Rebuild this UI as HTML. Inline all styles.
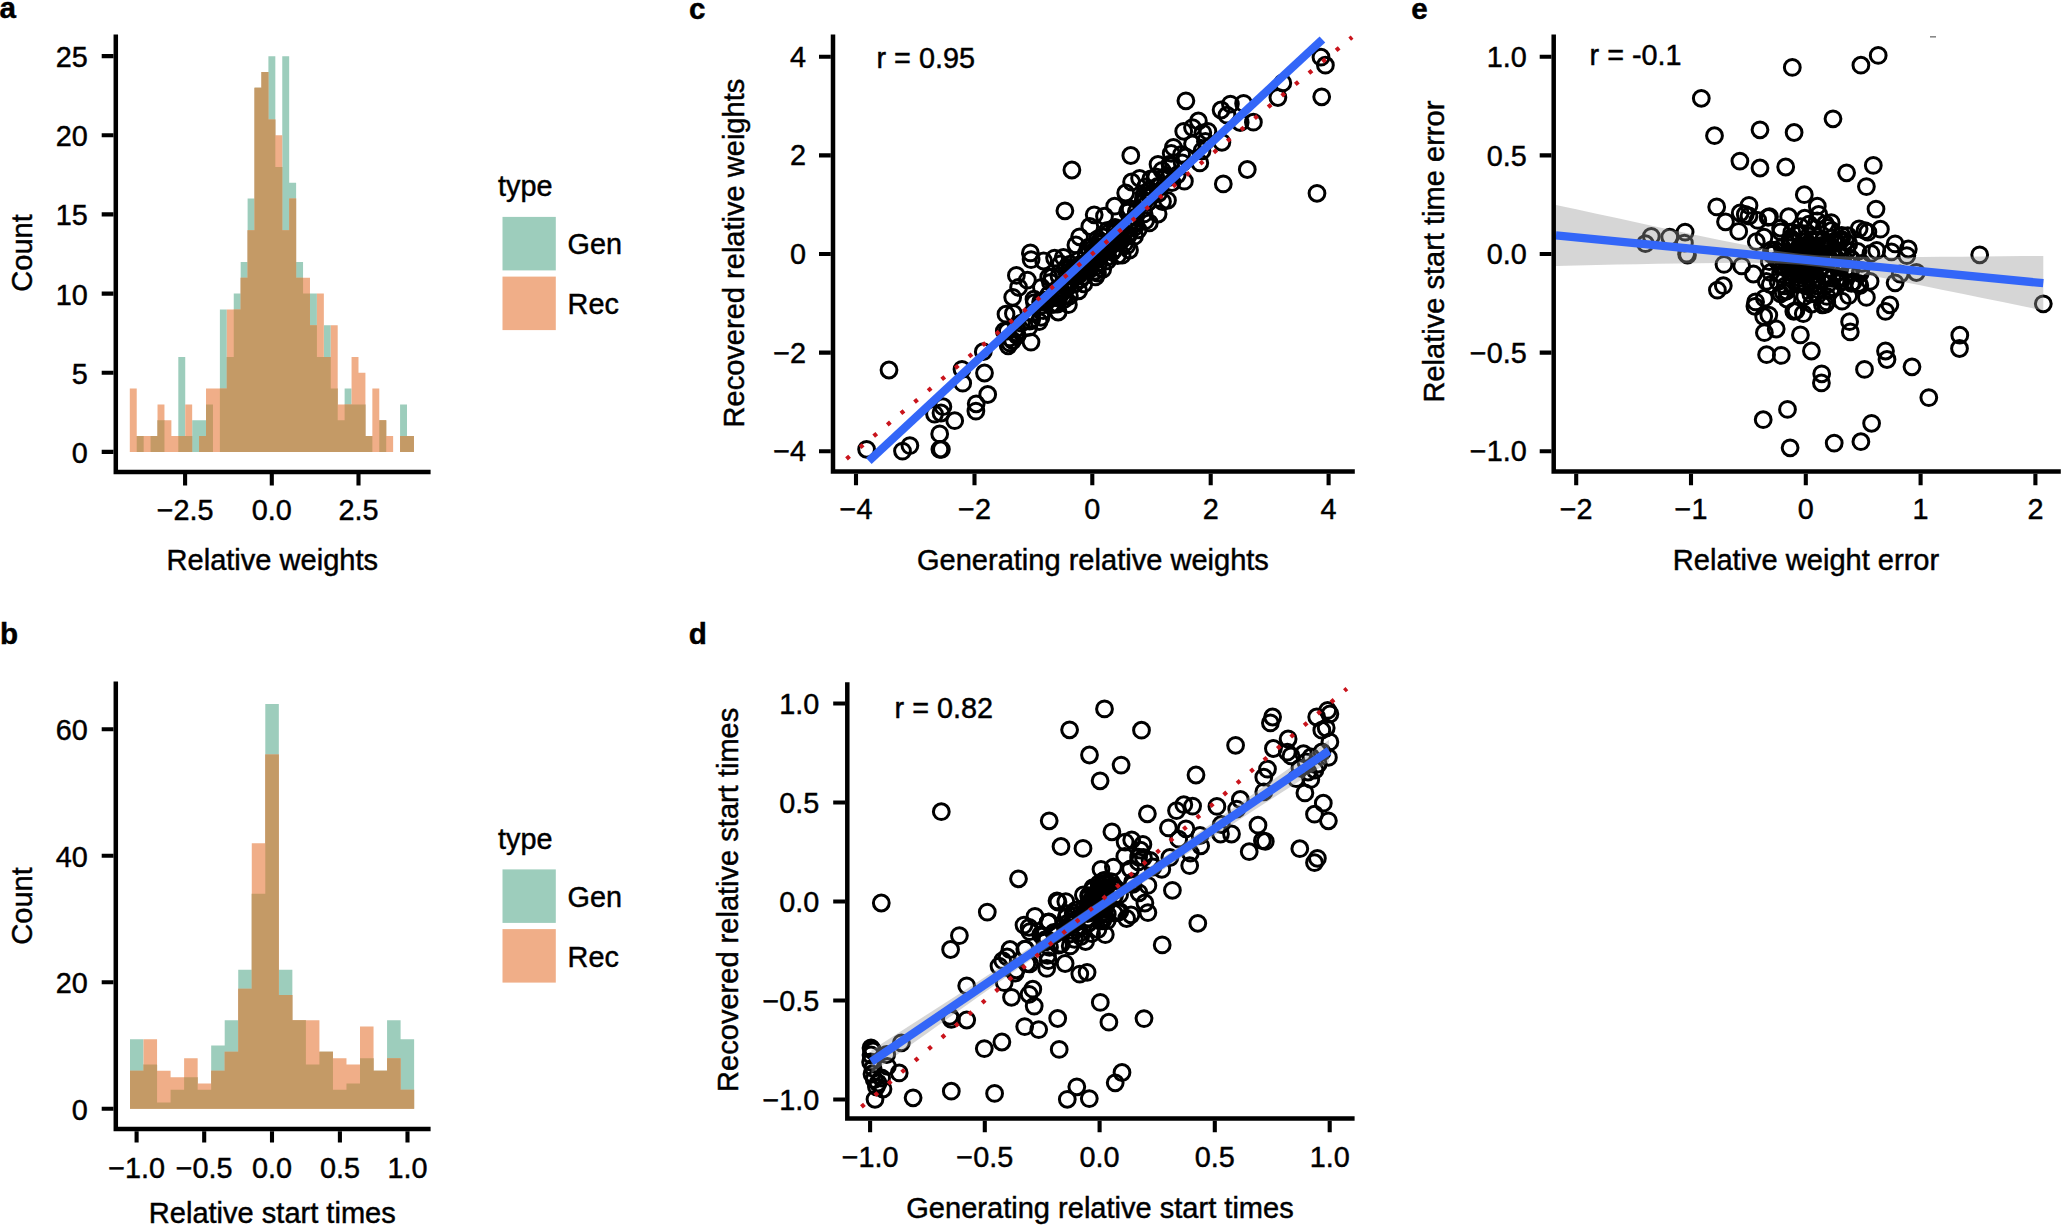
<!DOCTYPE html>
<html lang="en">
<head>
<meta charset="utf-8">
<title>Figure</title>
<style>html,body{margin:0;padding:0;background:#fff}svg{display:block}text{stroke:#000;stroke-width:.45px}</style>
</head>
<body>
<svg width="2062" height="1226" viewBox="0 0 2062 1226" font-family="'Liberation Sans', sans-serif" fill="#000">
<rect width="2062" height="1226" fill="#fff"/>
<text x="-0.5" y="17.6" text-anchor="start" font-size="29.6" font-weight="bold">a</text>
<text x="0" y="644" text-anchor="start" font-size="29.6" font-weight="bold">b</text>
<text x="689" y="19.1" text-anchor="start" font-size="29.6" font-weight="bold">c</text>
<text x="688.8" y="644" text-anchor="start" font-size="29.6" font-weight="bold">d</text>
<text x="1411.2" y="19.1" text-anchor="start" font-size="29.6" font-weight="bold">e</text>
<path d="M136.73 451.9v-15.83h6.93v15.83zM150.59 451.9v-15.83h6.93v15.83zM157.52 451.9v-31.66h6.93v31.66zM178.31 451.9v-94.98h6.93v94.98zM185.24 451.9v-15.83h6.93v15.83zM192.17 451.9v-31.66h6.93v31.66zM199.10 451.9v-31.66h6.93v31.66zM206.03 451.9v-47.49h6.93v47.49zM219.89 451.9v-142.47h6.93v142.47zM226.82 451.9v-94.98h6.93v94.98zM233.75 451.9v-158.30h6.93v158.30zM240.68 451.9v-189.96h6.93v189.96zM247.61 451.9v-253.28h6.93v253.28zM254.54 451.9v-364.09h6.93v364.09zM261.47 451.9v-379.92h6.93v379.92zM268.40 451.9v-395.75h6.93v395.75zM275.33 451.9v-284.94h6.93v284.94zM282.26 451.9v-395.75h6.93v395.75zM289.19 451.9v-269.11h6.93v269.11zM296.12 451.9v-189.96h6.93v189.96zM303.05 451.9v-158.30h6.93v158.30zM309.98 451.9v-158.30h6.93v158.30zM316.91 451.9v-94.98h6.93v94.98zM323.84 451.9v-126.64h6.93v126.64zM330.77 451.9v-63.32h6.93v63.32zM337.70 451.9v-31.66h6.93v31.66zM344.63 451.9v-63.32h6.93v63.32zM351.56 451.9v-47.49h6.93v47.49zM358.49 451.9v-47.49h6.93v47.49zM365.42 451.9v-15.83h6.93v15.83zM379.28 451.9v-31.66h6.93v31.66zM400.07 451.9v-47.49h6.93v47.49zM407.00 451.9v-15.83h6.93v15.83z" fill="#9dcdbc"/>
<path d="M129.80 451.9v-63.32h6.93v63.32zM136.73 451.9v-15.83h6.93v15.83zM143.66 451.9v-15.83h6.93v15.83zM150.59 451.9v-15.83h6.93v15.83zM157.52 451.9v-47.49h6.93v47.49zM164.45 451.9v-31.66h6.93v31.66zM171.38 451.9v-15.83h6.93v15.83zM178.31 451.9v-15.83h6.93v15.83zM185.24 451.9v-47.49h6.93v47.49zM199.10 451.9v-15.83h6.93v15.83zM206.03 451.9v-63.32h6.93v63.32zM212.96 451.9v-63.32h6.93v63.32zM219.89 451.9v-63.32h6.93v63.32zM226.82 451.9v-142.47h6.93v142.47zM233.75 451.9v-142.47h6.93v142.47zM240.68 451.9v-174.13h6.93v174.13zM247.61 451.9v-221.62h6.93v221.62zM254.54 451.9v-364.09h6.93v364.09zM261.47 451.9v-379.92h6.93v379.92zM268.40 451.9v-332.43h6.93v332.43zM275.33 451.9v-316.60h6.93v316.60zM282.26 451.9v-221.62h6.93v221.62zM289.19 451.9v-253.28h6.93v253.28zM296.12 451.9v-174.13h6.93v174.13zM303.05 451.9v-174.13h6.93v174.13zM309.98 451.9v-126.64h6.93v126.64zM316.91 451.9v-158.30h6.93v158.30zM323.84 451.9v-94.98h6.93v94.98zM330.77 451.9v-126.64h6.93v126.64zM337.70 451.9v-47.49h6.93v47.49zM344.63 451.9v-47.49h6.93v47.49zM351.56 451.9v-94.98h6.93v94.98zM358.49 451.9v-79.15h6.93v79.15zM365.42 451.9v-15.83h6.93v15.83zM372.35 451.9v-63.32h6.93v63.32zM379.28 451.9v-31.66h6.93v31.66zM386.21 451.9v-15.83h6.93v15.83zM400.07 451.9v-15.83h6.93v15.83zM407.00 451.9v-15.83h6.93v15.83z" fill="#f0ae88"/>
<path d="M136.73 451.9v-15.83h6.93v15.83zM150.59 451.9v-15.83h6.93v15.83zM157.52 451.9v-31.66h6.93v31.66zM178.31 451.9v-15.83h6.93v15.83zM185.24 451.9v-15.83h6.93v15.83zM199.10 451.9v-15.83h6.93v15.83zM206.03 451.9v-47.49h6.93v47.49zM219.89 451.9v-63.32h6.93v63.32zM226.82 451.9v-94.98h6.93v94.98zM233.75 451.9v-142.47h6.93v142.47zM240.68 451.9v-174.13h6.93v174.13zM247.61 451.9v-221.62h6.93v221.62zM254.54 451.9v-364.09h6.93v364.09zM261.47 451.9v-379.92h6.93v379.92zM268.40 451.9v-332.43h6.93v332.43zM275.33 451.9v-284.94h6.93v284.94zM282.26 451.9v-221.62h6.93v221.62zM289.19 451.9v-253.28h6.93v253.28zM296.12 451.9v-174.13h6.93v174.13zM303.05 451.9v-158.30h6.93v158.30zM309.98 451.9v-126.64h6.93v126.64zM316.91 451.9v-94.98h6.93v94.98zM323.84 451.9v-94.98h6.93v94.98zM330.77 451.9v-63.32h6.93v63.32zM337.70 451.9v-31.66h6.93v31.66zM344.63 451.9v-47.49h6.93v47.49zM351.56 451.9v-47.49h6.93v47.49zM358.49 451.9v-47.49h6.93v47.49zM365.42 451.9v-15.83h6.93v15.83zM379.28 451.9v-31.66h6.93v31.66zM400.07 451.9v-15.83h6.93v15.83zM407.00 451.9v-15.83h6.93v15.83z" fill="#c49a66"/>
<path d="M115.8 34.6V471.9H430.6" fill="none" stroke="#000" stroke-width="4.5" stroke-linecap="butt" stroke-linejoin="miter"/>
<path d="M185.1 474.1v11.4M271.8 474.1v11.4M358.5 474.1v11.4M113.5 451.9h-11.8M113.5 372.8h-11.8M113.5 293.6h-11.8M113.5 214.4h-11.8M113.5 135.3h-11.8M113.5 56.1h-11.8" stroke="#000" stroke-width="4.1" fill="none"/>
<text x="185.1" y="519.6" text-anchor="middle" font-size="28.8">−2.5</text>
<text x="271.8" y="519.6" text-anchor="middle" font-size="28.8">0.0</text>
<text x="358.5" y="519.6" text-anchor="middle" font-size="28.8">2.5</text>
<text x="87.8" y="462.9" text-anchor="end" font-size="28.8">0</text>
<text x="87.8" y="383.8" text-anchor="end" font-size="28.8">5</text>
<text x="87.8" y="304.6" text-anchor="end" font-size="28.8">10</text>
<text x="87.8" y="225.4" text-anchor="end" font-size="28.8">15</text>
<text x="87.8" y="146.3" text-anchor="end" font-size="28.8">20</text>
<text x="87.8" y="67.1" text-anchor="end" font-size="28.8">25</text>
<text x="272.3" y="570.3" text-anchor="middle" font-size="29.05">Relative weights</text>
<text x="32.3" y="253" text-anchor="middle" font-size="29.05" transform="rotate(-90 32.3 253)">Count</text>
<text x="498" y="196" text-anchor="start" font-size="28.8">type</text>
<rect x="502.5" y="216.9" width="53.3" height="53.5" fill="#9dcdbc"/>
<rect x="502.5" y="276.6" width="53.3" height="53.5" fill="#f0ae88"/>
<text x="567.6" y="254.4" text-anchor="start" font-size="28.8">Gen</text>
<text x="567.6" y="314.3" text-anchor="start" font-size="28.8">Rec</text>
<path d="M130.00 1108.8v-69.58h13.53v69.58zM143.53 1108.8v-44.27h13.53v44.27zM157.06 1108.8v-6.33h13.53v6.33zM170.59 1108.8v-18.98h13.53v18.98zM184.12 1108.8v-31.62h13.53v31.62zM197.65 1108.8v-18.98h13.53v18.98zM211.18 1108.8v-63.25h13.53v63.25zM224.71 1108.8v-88.55h13.53v88.55zM238.24 1108.8v-139.15h13.53v139.15zM251.77 1108.8v-215.05h13.53v215.05zM265.30 1108.8v-404.80h13.53v404.80zM278.83 1108.8v-139.15h13.53v139.15zM292.36 1108.8v-88.55h13.53v88.55zM305.89 1108.8v-44.27h13.53v44.27zM319.42 1108.8v-56.93h13.53v56.93zM332.95 1108.8v-18.98h13.53v18.98zM346.48 1108.8v-25.30h13.53v25.30zM360.01 1108.8v-50.60h13.53v50.60zM373.54 1108.8v-37.95h13.53v37.95zM387.07 1108.8v-88.55h13.53v88.55zM400.60 1108.8v-69.58h13.53v69.58z" fill="#9dcdbc"/>
<path d="M130.00 1108.8v-37.95h13.53v37.95zM143.53 1108.8v-69.58h13.53v69.58zM157.06 1108.8v-37.95h13.53v37.95zM170.59 1108.8v-31.62h13.53v31.62zM184.12 1108.8v-50.60h13.53v50.60zM197.65 1108.8v-25.30h13.53v25.30zM211.18 1108.8v-37.95h13.53v37.95zM224.71 1108.8v-56.93h13.53v56.93zM238.24 1108.8v-120.17h13.53v120.17zM251.77 1108.8v-265.65h13.53v265.65zM265.30 1108.8v-354.20h13.53v354.20zM278.83 1108.8v-113.85h13.53v113.85zM292.36 1108.8v-88.55h13.53v88.55zM305.89 1108.8v-88.55h13.53v88.55zM319.42 1108.8v-56.93h13.53v56.93zM332.95 1108.8v-50.60h13.53v50.60zM346.48 1108.8v-44.27h13.53v44.27zM360.01 1108.8v-82.23h13.53v82.23zM373.54 1108.8v-37.95h13.53v37.95zM387.07 1108.8v-50.60h13.53v50.60zM400.60 1108.8v-18.98h13.53v18.98z" fill="#f0ae88"/>
<path d="M130.00 1108.8v-37.95h13.53v37.95zM143.53 1108.8v-44.27h13.53v44.27zM157.06 1108.8v-6.33h13.53v6.33zM170.59 1108.8v-18.98h13.53v18.98zM184.12 1108.8v-31.62h13.53v31.62zM197.65 1108.8v-18.98h13.53v18.98zM211.18 1108.8v-37.95h13.53v37.95zM224.71 1108.8v-56.93h13.53v56.93zM238.24 1108.8v-120.17h13.53v120.17zM251.77 1108.8v-215.05h13.53v215.05zM265.30 1108.8v-354.20h13.53v354.20zM278.83 1108.8v-113.85h13.53v113.85zM292.36 1108.8v-88.55h13.53v88.55zM305.89 1108.8v-44.27h13.53v44.27zM319.42 1108.8v-56.93h13.53v56.93zM332.95 1108.8v-18.98h13.53v18.98zM346.48 1108.8v-25.30h13.53v25.30zM360.01 1108.8v-50.60h13.53v50.60zM373.54 1108.8v-37.95h13.53v37.95zM387.07 1108.8v-50.60h13.53v50.60zM400.60 1108.8v-18.98h13.53v18.98z" fill="#c49a66"/>
<path d="M115.8 681.5V1128.9H430.6" fill="none" stroke="#000" stroke-width="4.5" stroke-linecap="butt" stroke-linejoin="miter"/>
<path d="M136.6 1131.2v11.4M204.2 1131.2v11.4M272 1131.2v11.4M339.9 1131.2v11.4M407.5 1131.2v11.4M113.5 1108.8h-11.8M113.5 982.3h-11.8M113.5 855.8h-11.8M113.5 729.3h-11.8" stroke="#000" stroke-width="4.1" fill="none"/>
<text x="136.6" y="1177.8" text-anchor="middle" font-size="28.8">−1.0</text>
<text x="204.2" y="1177.8" text-anchor="middle" font-size="28.8">−0.5</text>
<text x="272" y="1177.8" text-anchor="middle" font-size="28.8">0.0</text>
<text x="339.9" y="1177.8" text-anchor="middle" font-size="28.8">0.5</text>
<text x="407.5" y="1177.8" text-anchor="middle" font-size="28.8">1.0</text>
<text x="87.8" y="1119.8" text-anchor="end" font-size="28.8">0</text>
<text x="87.8" y="993.3" text-anchor="end" font-size="28.8">20</text>
<text x="87.8" y="866.8" text-anchor="end" font-size="28.8">40</text>
<text x="87.8" y="740.3" text-anchor="end" font-size="28.8">60</text>
<text x="272.3" y="1223" text-anchor="middle" font-size="29.05">Relative start times</text>
<text x="32.3" y="906" text-anchor="middle" font-size="29.05" transform="rotate(-90 32.3 906)">Count</text>
<text x="498" y="848.5" text-anchor="start" font-size="28.8">type</text>
<rect x="502.5" y="869.4" width="53.3" height="53.5" fill="#9dcdbc"/>
<rect x="502.5" y="929.1" width="53.3" height="53.5" fill="#f0ae88"/>
<text x="567.6" y="906.9" text-anchor="start" font-size="28.8">Gen</text>
<text x="567.6" y="966.8" text-anchor="start" font-size="28.8">Rec</text>
<g fill="none" stroke="#000" stroke-width="3"><circle cx="1007.3" cy="331.2" r="7.9"/><circle cx="1004.3" cy="331.1" r="7.9"/><circle cx="1009.8" cy="337.9" r="7.9"/><circle cx="1021.3" cy="323.1" r="7.9"/><circle cx="1015.7" cy="333.3" r="7.9"/><circle cx="1016.3" cy="328.5" r="7.9"/><circle cx="1032.1" cy="313.2" r="7.9"/><circle cx="1029.7" cy="321.2" r="7.9"/><circle cx="1034.5" cy="302.6" r="7.9"/><circle cx="1031.8" cy="319" r="7.9"/><circle cx="1050.4" cy="282.3" r="7.9"/><circle cx="1042.3" cy="300.9" r="7.9"/><circle cx="1040.6" cy="302" r="7.9"/><circle cx="1048.6" cy="295" r="7.9"/><circle cx="1041" cy="317.3" r="7.9"/><circle cx="1043.3" cy="310.6" r="7.9"/><circle cx="1045.4" cy="300.1" r="7.9"/><circle cx="1041.3" cy="305.5" r="7.9"/><circle cx="1058.8" cy="296.9" r="7.9"/><circle cx="1057.7" cy="288.3" r="7.9"/><circle cx="1056.1" cy="297.5" r="7.9"/><circle cx="1059" cy="276" r="7.9"/><circle cx="1053.6" cy="304.3" r="7.9"/><circle cx="1061.1" cy="292.9" r="7.9"/><circle cx="1059.4" cy="295.4" r="7.9"/><circle cx="1052.1" cy="276.9" r="7.9"/><circle cx="1055.7" cy="293.1" r="7.9"/><circle cx="1056.5" cy="297.3" r="7.9"/><circle cx="1051.2" cy="304.5" r="7.9"/><circle cx="1057.5" cy="304" r="7.9"/><circle cx="1061.1" cy="293.3" r="7.9"/><circle cx="1069.6" cy="268.5" r="7.9"/><circle cx="1069.4" cy="296" r="7.9"/><circle cx="1073.7" cy="272.2" r="7.9"/><circle cx="1068.2" cy="283.2" r="7.9"/><circle cx="1070.8" cy="281.7" r="7.9"/><circle cx="1070.2" cy="264.2" r="7.9"/><circle cx="1065.9" cy="284.4" r="7.9"/><circle cx="1067.1" cy="283.5" r="7.9"/><circle cx="1068" cy="283.4" r="7.9"/><circle cx="1064.5" cy="282.9" r="7.9"/><circle cx="1071.6" cy="276.5" r="7.9"/><circle cx="1064.1" cy="285.4" r="7.9"/><circle cx="1072.9" cy="269" r="7.9"/><circle cx="1063.5" cy="296.1" r="7.9"/><circle cx="1073" cy="273.9" r="7.9"/><circle cx="1072.2" cy="273.5" r="7.9"/><circle cx="1067.5" cy="287.4" r="7.9"/><circle cx="1066.8" cy="267.2" r="7.9"/><circle cx="1064.3" cy="299.3" r="7.9"/><circle cx="1076.5" cy="273.3" r="7.9"/><circle cx="1080.1" cy="264.5" r="7.9"/><circle cx="1081.3" cy="269.5" r="7.9"/><circle cx="1079.3" cy="270.6" r="7.9"/><circle cx="1078.7" cy="290.8" r="7.9"/><circle cx="1082.5" cy="276.7" r="7.9"/><circle cx="1080.5" cy="279.6" r="7.9"/><circle cx="1075" cy="283.8" r="7.9"/><circle cx="1085" cy="262.8" r="7.9"/><circle cx="1083.8" cy="283.9" r="7.9"/><circle cx="1079" cy="274.8" r="7.9"/><circle cx="1081.9" cy="266.6" r="7.9"/><circle cx="1075.1" cy="270" r="7.9"/><circle cx="1076.3" cy="271.8" r="7.9"/><circle cx="1078.4" cy="272" r="7.9"/><circle cx="1076.2" cy="274.2" r="7.9"/><circle cx="1075.6" cy="276" r="7.9"/><circle cx="1084.7" cy="264.9" r="7.9"/><circle cx="1081.6" cy="265.4" r="7.9"/><circle cx="1078.5" cy="267" r="7.9"/><circle cx="1078.7" cy="260.2" r="7.9"/><circle cx="1086.1" cy="253.6" r="7.9"/><circle cx="1091.7" cy="263.3" r="7.9"/><circle cx="1087.4" cy="263.4" r="7.9"/><circle cx="1090.2" cy="262.6" r="7.9"/><circle cx="1088.1" cy="247.5" r="7.9"/><circle cx="1086.5" cy="254.9" r="7.9"/><circle cx="1087.9" cy="266.4" r="7.9"/><circle cx="1092.6" cy="248.8" r="7.9"/><circle cx="1097.8" cy="252.4" r="7.9"/><circle cx="1096.4" cy="257.6" r="7.9"/><circle cx="1090.5" cy="267.1" r="7.9"/><circle cx="1088.2" cy="261.7" r="7.9"/><circle cx="1095.4" cy="266.6" r="7.9"/><circle cx="1090.1" cy="258.7" r="7.9"/><circle cx="1097.8" cy="239" r="7.9"/><circle cx="1096.3" cy="250.2" r="7.9"/><circle cx="1094.9" cy="271.3" r="7.9"/><circle cx="1088.9" cy="270.2" r="7.9"/><circle cx="1086.5" cy="265.5" r="7.9"/><circle cx="1086.5" cy="265.8" r="7.9"/><circle cx="1094.4" cy="250.9" r="7.9"/><circle cx="1097.5" cy="273.1" r="7.9"/><circle cx="1097.9" cy="247.7" r="7.9"/><circle cx="1109.3" cy="247.4" r="7.9"/><circle cx="1100.7" cy="247" r="7.9"/><circle cx="1100.3" cy="248.5" r="7.9"/><circle cx="1108.7" cy="232.8" r="7.9"/><circle cx="1107.9" cy="256.8" r="7.9"/><circle cx="1107.5" cy="243.6" r="7.9"/><circle cx="1099" cy="262.8" r="7.9"/><circle cx="1107.3" cy="260.9" r="7.9"/><circle cx="1106.9" cy="250.9" r="7.9"/><circle cx="1107.3" cy="244.6" r="7.9"/><circle cx="1101.9" cy="243.3" r="7.9"/><circle cx="1102.7" cy="269.3" r="7.9"/><circle cx="1102.8" cy="236.8" r="7.9"/><circle cx="1100" cy="256.5" r="7.9"/><circle cx="1099.5" cy="242" r="7.9"/><circle cx="1107.5" cy="230.3" r="7.9"/><circle cx="1099.7" cy="241.5" r="7.9"/><circle cx="1117.6" cy="255.5" r="7.9"/><circle cx="1114" cy="243.3" r="7.9"/><circle cx="1110" cy="244.1" r="7.9"/><circle cx="1121.3" cy="238.3" r="7.9"/><circle cx="1120.9" cy="241" r="7.9"/><circle cx="1115" cy="227.3" r="7.9"/><circle cx="1112.3" cy="252" r="7.9"/><circle cx="1112.8" cy="241.9" r="7.9"/><circle cx="1116.8" cy="230.5" r="7.9"/><circle cx="1112.9" cy="244" r="7.9"/><circle cx="1120.6" cy="230.8" r="7.9"/><circle cx="1114" cy="249.8" r="7.9"/><circle cx="1120.5" cy="230.1" r="7.9"/><circle cx="1114.8" cy="229.7" r="7.9"/><circle cx="1116.1" cy="242" r="7.9"/><circle cx="1116" cy="228.2" r="7.9"/><circle cx="1112" cy="239.9" r="7.9"/><circle cx="1109.9" cy="241.4" r="7.9"/><circle cx="1115.4" cy="242.7" r="7.9"/><circle cx="1118.4" cy="242" r="7.9"/><circle cx="1116" cy="239.9" r="7.9"/><circle cx="1116.4" cy="236" r="7.9"/><circle cx="1116.5" cy="240.7" r="7.9"/><circle cx="1112.8" cy="242.7" r="7.9"/><circle cx="1127.7" cy="212.1" r="7.9"/><circle cx="1128.3" cy="224.2" r="7.9"/><circle cx="1126.9" cy="245.6" r="7.9"/><circle cx="1128.9" cy="234.5" r="7.9"/><circle cx="1129.8" cy="223.3" r="7.9"/><circle cx="1127" cy="236.4" r="7.9"/><circle cx="1132.8" cy="220.4" r="7.9"/><circle cx="1129.9" cy="208.6" r="7.9"/><circle cx="1124.7" cy="243.1" r="7.9"/><circle cx="1128.3" cy="210.4" r="7.9"/><circle cx="1123.3" cy="236.1" r="7.9"/><circle cx="1123.1" cy="233.7" r="7.9"/><circle cx="1136.3" cy="211.8" r="7.9"/><circle cx="1134.3" cy="223.2" r="7.9"/><circle cx="1144.1" cy="213.9" r="7.9"/><circle cx="1135.3" cy="217.2" r="7.9"/><circle cx="1135.2" cy="226.8" r="7.9"/><circle cx="1143.9" cy="195.5" r="7.9"/><circle cx="1144.7" cy="201.2" r="7.9"/><circle cx="1138.2" cy="229.8" r="7.9"/><circle cx="1143.3" cy="200.2" r="7.9"/><circle cx="1135.4" cy="223.6" r="7.9"/><circle cx="1149.3" cy="191.2" r="7.9"/><circle cx="1147.6" cy="202.6" r="7.9"/><circle cx="1145.5" cy="186.8" r="7.9"/><circle cx="1151.8" cy="194.6" r="7.9"/><circle cx="1149.2" cy="194.9" r="7.9"/><circle cx="1152.7" cy="195.4" r="7.9"/><circle cx="1168.8" cy="177.6" r="7.9"/><circle cx="1166.4" cy="175.6" r="7.9"/><circle cx="1160.2" cy="186" r="7.9"/><circle cx="1157.6" cy="186.5" r="7.9"/><circle cx="1158.6" cy="193.3" r="7.9"/><circle cx="1162.1" cy="170.4" r="7.9"/><circle cx="1172" cy="182.5" r="7.9"/><circle cx="1170.7" cy="166" r="7.9"/><circle cx="1177.2" cy="174.8" r="7.9"/><circle cx="1170" cy="164.2" r="7.9"/><circle cx="1185.8" cy="157" r="7.9"/><circle cx="1181.6" cy="154.4" r="7.9"/><circle cx="1202" cy="150.9" r="7.9"/><circle cx="1205.4" cy="141.4" r="7.9"/><circle cx="889" cy="370" r="7.9"/><circle cx="866.6" cy="449.3" r="7.9"/><circle cx="902.5" cy="451.1" r="7.9"/><circle cx="909.9" cy="445.6" r="7.9"/><circle cx="939.9" cy="449.3" r="7.9"/><circle cx="941.4" cy="449.3" r="7.9"/><circle cx="939.7" cy="433.9" r="7.9"/><circle cx="934.5" cy="414.1" r="7.9"/><circle cx="942.9" cy="406.7" r="7.9"/><circle cx="941" cy="413" r="7.9"/><circle cx="954.7" cy="420.7" r="7.9"/><circle cx="962.7" cy="383.2" r="7.9"/><circle cx="962" cy="369.3" r="7.9"/><circle cx="975.9" cy="411.1" r="7.9"/><circle cx="976.2" cy="403.8" r="7.9"/><circle cx="987.7" cy="394.5" r="7.9"/><circle cx="984.5" cy="373" r="7.9"/><circle cx="983.3" cy="351.7" r="7.9"/><circle cx="1031" cy="342.1" r="7.9"/><circle cx="1008.2" cy="345.8" r="7.9"/><circle cx="1009.7" cy="342.9" r="7.9"/><circle cx="1012.7" cy="340.7" r="7.9"/><circle cx="1017.1" cy="335.5" r="7.9"/><circle cx="1028.8" cy="327.4" r="7.9"/><circle cx="1006" cy="314.2" r="7.9"/><circle cx="1013.4" cy="313.5" r="7.9"/><circle cx="1012.7" cy="297.3" r="7.9"/><circle cx="1039.1" cy="321.6" r="7.9"/><circle cx="1058.2" cy="312" r="7.9"/><circle cx="1068.4" cy="304.7" r="7.9"/><circle cx="1321" cy="57.2" r="7.9"/><circle cx="1325.4" cy="65.2" r="7.9"/><circle cx="1321.7" cy="96.8" r="7.9"/><circle cx="1317" cy="193.3" r="7.9"/><circle cx="1282.8" cy="82.9" r="7.9"/><circle cx="1277.9" cy="97.5" r="7.9"/><circle cx="1253.4" cy="122.2" r="7.9"/><circle cx="1240.2" cy="122.5" r="7.9"/><circle cx="1247.3" cy="169.5" r="7.9"/><circle cx="1223.3" cy="183.9" r="7.9"/><circle cx="1243.6" cy="103.4" r="7.9"/><circle cx="1230.4" cy="104.1" r="7.9"/><circle cx="1221.1" cy="110" r="7.9"/><circle cx="1227" cy="115.2" r="7.9"/><circle cx="1185.9" cy="100.8" r="7.9"/><circle cx="1198.4" cy="121" r="7.9"/><circle cx="1192.5" cy="127.6" r="7.9"/><circle cx="1183.7" cy="131.3" r="7.9"/><circle cx="1207.9" cy="131.3" r="7.9"/><circle cx="1202.8" cy="132.8" r="7.9"/><circle cx="1192.5" cy="143.8" r="7.9"/><circle cx="1221.9" cy="142.3" r="7.9"/><circle cx="1173.4" cy="147.4" r="7.9"/><circle cx="1171.2" cy="153.3" r="7.9"/><circle cx="1130.8" cy="155.5" r="7.9"/><circle cx="1158" cy="164.3" r="7.9"/><circle cx="1199.8" cy="162.9" r="7.9"/><circle cx="1182.2" cy="162.9" r="7.9"/><circle cx="1184.4" cy="181.2" r="7.9"/><circle cx="1139.6" cy="178.3" r="7.9"/><circle cx="1131.6" cy="182" r="7.9"/><circle cx="1155.8" cy="176.8" r="7.9"/><circle cx="1167.5" cy="200.3" r="7.9"/><circle cx="1125.7" cy="193" r="7.9"/><circle cx="1114.7" cy="206.2" r="7.9"/><circle cx="1071.9" cy="170" r="7.9"/><circle cx="1064.9" cy="210.8" r="7.9"/><circle cx="1162.5" cy="201.6" r="7.9"/><circle cx="1158.1" cy="214" r="7.9"/><circle cx="1149.3" cy="222.9" r="7.9"/><circle cx="1145.6" cy="220.6" r="7.9"/><circle cx="1134.6" cy="236.1" r="7.9"/><circle cx="1129.5" cy="250" r="7.9"/><circle cx="1122.1" cy="255.2" r="7.9"/><circle cx="1095.4" cy="276.9" r="7.9"/><circle cx="1030.4" cy="252.9" r="7.9"/><circle cx="1031.1" cy="259.6" r="7.9"/><circle cx="1043.6" cy="261" r="7.9"/><circle cx="1054.6" cy="258.1" r="7.9"/><circle cx="1063.4" cy="257.4" r="7.9"/><circle cx="1060.5" cy="264" r="7.9"/><circle cx="1016.4" cy="275.4" r="7.9"/><circle cx="1027.4" cy="280.1" r="7.9"/><circle cx="1018.6" cy="287.4" r="7.9"/><circle cx="1048.7" cy="277.2" r="7.9"/><circle cx="1041.4" cy="287.4" r="7.9"/><circle cx="1034" cy="299.2" r="7.9"/><circle cx="1075.9" cy="244.9" r="7.9"/><circle cx="1079.6" cy="236.8" r="7.9"/><circle cx="1089.8" cy="226.5" r="7.9"/><circle cx="1094.2" cy="214.8" r="7.9"/><circle cx="1104.5" cy="216.2" r="7.9"/><circle cx="1150.8" cy="178.8" r="7.9"/></g>
<path d="M868.8 461L1322.4 39.5" stroke="#3366f8" stroke-width="8.3" fill="none"/>
<path d="M846.5 458.8L1352.1 37.1" stroke="#c9141c" stroke-width="4.2" stroke-dasharray="4 13.71" fill="none"/>
<path d="M833 34.6V471.5H1354.8" fill="none" stroke="#000" stroke-width="4.5" stroke-linecap="butt" stroke-linejoin="miter"/>
<path d="M856 473.8v11.4M974.5 473.8v11.4M1092.3 473.8v11.4M1210.7 473.8v11.4M1328.6 473.8v11.4M830.8 56.8h-11.8M830.8 155.4h-11.8M830.8 254h-11.8M830.8 352.6h-11.8M830.8 451.2h-11.8" stroke="#000" stroke-width="4.1" fill="none"/>
<text x="856" y="519" text-anchor="middle" font-size="28.8">−4</text>
<text x="974.5" y="519" text-anchor="middle" font-size="28.8">−2</text>
<text x="1092.3" y="519" text-anchor="middle" font-size="28.8">0</text>
<text x="1210.7" y="519" text-anchor="middle" font-size="28.8">2</text>
<text x="1328.6" y="519" text-anchor="middle" font-size="28.8">4</text>
<text x="806" y="66.8" text-anchor="end" font-size="28.8">4</text>
<text x="806" y="165.4" text-anchor="end" font-size="28.8">2</text>
<text x="806" y="264" text-anchor="end" font-size="28.8">0</text>
<text x="806" y="362.6" text-anchor="end" font-size="28.8">−2</text>
<text x="806" y="461.2" text-anchor="end" font-size="28.8">−4</text>
<text x="1092.9" y="570.3" text-anchor="middle" font-size="29.05">Generating relative weights</text>
<text x="744.2" y="253.1" text-anchor="middle" font-size="29.05" transform="rotate(-90 744.2 253.1)">Recovered relative weights</text>
<text x="876.5" y="67.9" text-anchor="start" font-size="28.8">r = 0.95</text>
<g fill="none" stroke="#000" stroke-width="3"><circle cx="1016.2" cy="969.8" r="7.9"/><circle cx="1029.8" cy="963.8" r="7.9"/><circle cx="1040.7" cy="934.6" r="7.9"/><circle cx="1025.5" cy="949.1" r="7.9"/><circle cx="1024.8" cy="949.1" r="7.9"/><circle cx="1044.9" cy="942.1" r="7.9"/><circle cx="1047" cy="939.2" r="7.9"/><circle cx="1049.5" cy="947.3" r="7.9"/><circle cx="1049" cy="922" r="7.9"/><circle cx="1053.8" cy="932.3" r="7.9"/><circle cx="1042.8" cy="935.9" r="7.9"/><circle cx="1048.1" cy="922.4" r="7.9"/><circle cx="1055" cy="934.4" r="7.9"/><circle cx="1046.7" cy="968.4" r="7.9"/><circle cx="1044.8" cy="939.8" r="7.9"/><circle cx="1061.2" cy="944.1" r="7.9"/><circle cx="1084.5" cy="907.6" r="7.9"/><circle cx="1074.4" cy="939.3" r="7.9"/><circle cx="1087.9" cy="911.5" r="7.9"/><circle cx="1073.2" cy="912.9" r="7.9"/><circle cx="1079.9" cy="933.1" r="7.9"/><circle cx="1074.6" cy="923.3" r="7.9"/><circle cx="1068.3" cy="922.7" r="7.9"/><circle cx="1066.9" cy="927.5" r="7.9"/><circle cx="1069.1" cy="934.4" r="7.9"/><circle cx="1067.3" cy="913.7" r="7.9"/><circle cx="1080.7" cy="936.5" r="7.9"/><circle cx="1071.8" cy="922.7" r="7.9"/><circle cx="1075.9" cy="910.2" r="7.9"/><circle cx="1068.9" cy="934.2" r="7.9"/><circle cx="1087.4" cy="908" r="7.9"/><circle cx="1087.7" cy="919.4" r="7.9"/><circle cx="1087.5" cy="913.6" r="7.9"/><circle cx="1072.4" cy="923.1" r="7.9"/><circle cx="1074.1" cy="921" r="7.9"/><circle cx="1076.2" cy="927.7" r="7.9"/><circle cx="1076.9" cy="919.4" r="7.9"/><circle cx="1065.4" cy="928.6" r="7.9"/><circle cx="1074.5" cy="916" r="7.9"/><circle cx="1066.3" cy="917.5" r="7.9"/><circle cx="1093.7" cy="904.8" r="7.9"/><circle cx="1101.8" cy="919.4" r="7.9"/><circle cx="1103.4" cy="902.3" r="7.9"/><circle cx="1104.8" cy="889.1" r="7.9"/><circle cx="1095.8" cy="912.7" r="7.9"/><circle cx="1110.9" cy="881.6" r="7.9"/><circle cx="1103.1" cy="883.6" r="7.9"/><circle cx="1089.3" cy="896.8" r="7.9"/><circle cx="1102.7" cy="920.8" r="7.9"/><circle cx="1105.2" cy="894.9" r="7.9"/><circle cx="1100.3" cy="907.1" r="7.9"/><circle cx="1099.9" cy="890.5" r="7.9"/><circle cx="1107.3" cy="914.2" r="7.9"/><circle cx="1101.7" cy="885.9" r="7.9"/><circle cx="1104.2" cy="909.3" r="7.9"/><circle cx="1093.6" cy="900.1" r="7.9"/><circle cx="1096.6" cy="902.7" r="7.9"/><circle cx="1090.7" cy="900.7" r="7.9"/><circle cx="1102.7" cy="912.3" r="7.9"/><circle cx="1102.7" cy="905.1" r="7.9"/><circle cx="1088.4" cy="922.8" r="7.9"/><circle cx="1106.6" cy="896.3" r="7.9"/><circle cx="1100.6" cy="914.9" r="7.9"/><circle cx="1103.5" cy="880.9" r="7.9"/><circle cx="1094.1" cy="898.1" r="7.9"/><circle cx="1090" cy="911" r="7.9"/><circle cx="1093" cy="887.6" r="7.9"/><circle cx="1105.3" cy="883.5" r="7.9"/><circle cx="1097.1" cy="905.7" r="7.9"/><circle cx="1099.3" cy="910.1" r="7.9"/><circle cx="1102.5" cy="918" r="7.9"/><circle cx="1103.1" cy="893" r="7.9"/><circle cx="1094.1" cy="902.7" r="7.9"/><circle cx="1105.4" cy="902.3" r="7.9"/><circle cx="1088.6" cy="895.7" r="7.9"/><circle cx="1089.7" cy="911.4" r="7.9"/><circle cx="1104.2" cy="880.5" r="7.9"/><circle cx="1103.8" cy="902" r="7.9"/><circle cx="1099" cy="888.3" r="7.9"/><circle cx="1099" cy="883.6" r="7.9"/><circle cx="1092.9" cy="889.8" r="7.9"/><circle cx="1110.8" cy="890.9" r="7.9"/><circle cx="1098.9" cy="903.1" r="7.9"/><circle cx="1107.2" cy="883.1" r="7.9"/><circle cx="1094.5" cy="908.2" r="7.9"/><circle cx="1093.1" cy="899" r="7.9"/><circle cx="1101.7" cy="902.8" r="7.9"/><circle cx="1091.6" cy="933.6" r="7.9"/><circle cx="1091.4" cy="912.5" r="7.9"/><circle cx="1107.2" cy="920.6" r="7.9"/><circle cx="1104.5" cy="899.2" r="7.9"/><circle cx="1093.6" cy="895.3" r="7.9"/><circle cx="1088.9" cy="918.2" r="7.9"/><circle cx="1088.4" cy="923.3" r="7.9"/><circle cx="1095.2" cy="904.4" r="7.9"/><circle cx="1114.5" cy="895.8" r="7.9"/><circle cx="1130.6" cy="869" r="7.9"/><circle cx="1111.3" cy="892.5" r="7.9"/><circle cx="1114.1" cy="913.2" r="7.9"/><circle cx="1132.6" cy="882" r="7.9"/><circle cx="1118" cy="912.3" r="7.9"/><circle cx="1119.8" cy="911.7" r="7.9"/><circle cx="1124.8" cy="856.4" r="7.9"/><circle cx="1119.6" cy="894.7" r="7.9"/><circle cx="1112.4" cy="887.6" r="7.9"/><circle cx="1113.6" cy="885.8" r="7.9"/><circle cx="1132.8" cy="884.3" r="7.9"/><circle cx="1117" cy="889.5" r="7.9"/><circle cx="1138.6" cy="857.2" r="7.9"/><circle cx="1142.9" cy="844.4" r="7.9"/><circle cx="1152.9" cy="867" r="7.9"/><circle cx="950.6" cy="949.5" r="7.9"/><circle cx="1010" cy="949.5" r="7.9"/><circle cx="1007.1" cy="956.9" r="7.9"/><circle cx="999" cy="966.1" r="7.9"/><circle cx="1002.7" cy="960.6" r="7.9"/><circle cx="966.7" cy="985.8" r="7.9"/><circle cx="1004.2" cy="982.6" r="7.9"/><circle cx="1015.2" cy="973" r="7.9"/><circle cx="1026.9" cy="963.5" r="7.9"/><circle cx="1011.5" cy="997.3" r="7.9"/><circle cx="1032.8" cy="989.2" r="7.9"/><circle cx="1029.1" cy="994.3" r="7.9"/><circle cx="1034.2" cy="1006.1" r="7.9"/><circle cx="1048.2" cy="960.6" r="7.9"/><circle cx="1047.5" cy="955.4" r="7.9"/><circle cx="1065.1" cy="963.5" r="7.9"/><circle cx="1079.8" cy="974.1" r="7.9"/><circle cx="1087.1" cy="972.3" r="7.9"/><circle cx="1070.2" cy="945.9" r="7.9"/><circle cx="1058.5" cy="945.1" r="7.9"/><circle cx="1085.6" cy="941.5" r="7.9"/><circle cx="1100.3" cy="1002.4" r="7.9"/><circle cx="1108.9" cy="1022.2" r="7.9"/><circle cx="1057.7" cy="1018.5" r="7.9"/><circle cx="1024.7" cy="1026.6" r="7.9"/><circle cx="1038.7" cy="1029.6" r="7.9"/><circle cx="966.7" cy="1020" r="7.9"/><circle cx="949.8" cy="1016.3" r="7.9"/><circle cx="951.3" cy="1019.3" r="7.9"/><circle cx="984.3" cy="1048.6" r="7.9"/><circle cx="1001.9" cy="1042" r="7.9"/><circle cx="1059.2" cy="1049.4" r="7.9"/><circle cx="901.4" cy="1042.8" r="7.9"/><circle cx="872" cy="1049.4" r="7.9"/><circle cx="871" cy="1048" r="7.9"/><circle cx="873" cy="1051" r="7.9"/><circle cx="870.6" cy="1061.9" r="7.9"/><circle cx="886.7" cy="1054.5" r="7.9"/><circle cx="887.4" cy="1066.3" r="7.9"/><circle cx="899.2" cy="1072.9" r="7.9"/><circle cx="874.2" cy="1079.5" r="7.9"/><circle cx="881.6" cy="1078" r="7.9"/><circle cx="876.4" cy="1086.8" r="7.9"/><circle cx="883" cy="1089" r="7.9"/><circle cx="875" cy="1099.3" r="7.9"/><circle cx="913.1" cy="1097.8" r="7.9"/><circle cx="951.3" cy="1091.2" r="7.9"/><circle cx="994.6" cy="1093.4" r="7.9"/><circle cx="1067.3" cy="1099.3" r="7.9"/><circle cx="1076.8" cy="1086.8" r="7.9"/><circle cx="1089.3" cy="1098.6" r="7.9"/><circle cx="1144" cy="1018.6" r="7.9"/><circle cx="1122" cy="1072.5" r="7.9"/><circle cx="1115.2" cy="1082.8" r="7.9"/><circle cx="941.3" cy="811.7" r="7.9"/><circle cx="881.3" cy="903" r="7.9"/><circle cx="1049.2" cy="820.8" r="7.9"/><circle cx="1061" cy="846.5" r="7.9"/><circle cx="1083" cy="848.4" r="7.9"/><circle cx="1111.9" cy="831.8" r="7.9"/><circle cx="1018.5" cy="878.8" r="7.9"/><circle cx="987.3" cy="912.1" r="7.9"/><circle cx="959.4" cy="935.6" r="7.9"/><circle cx="1101" cy="869.3" r="7.9"/><circle cx="1113.4" cy="867.1" r="7.9"/><circle cx="1083.4" cy="895" r="7.9"/><circle cx="1057" cy="900.8" r="7.9"/><circle cx="1058" cy="902" r="7.9"/><circle cx="1065.8" cy="901.6" r="7.9"/><circle cx="1035" cy="916.3" r="7.9"/><circle cx="1024" cy="925.1" r="7.9"/><circle cx="1029.1" cy="927.3" r="7.9"/><circle cx="1029.8" cy="931.7" r="7.9"/><circle cx="1048.2" cy="922.1" r="7.9"/><circle cx="1147.4" cy="813.8" r="7.9"/><circle cx="1125.1" cy="842.1" r="7.9"/><circle cx="1131.7" cy="839.9" r="7.9"/><circle cx="1140.5" cy="850.2" r="7.9"/><circle cx="1138.3" cy="861.9" r="7.9"/><circle cx="1143.4" cy="857.5" r="7.9"/><circle cx="1150.1" cy="860.5" r="7.9"/><circle cx="1168.4" cy="827.9" r="7.9"/><circle cx="1176.5" cy="810.6" r="7.9"/><circle cx="1183.8" cy="804.7" r="7.9"/><circle cx="1192.6" cy="806.1" r="7.9"/><circle cx="1186" cy="828.9" r="7.9"/><circle cx="1178.7" cy="839.2" r="7.9"/><circle cx="1169.9" cy="857.5" r="7.9"/><circle cx="1161.8" cy="869.3" r="7.9"/><circle cx="1200" cy="835.5" r="7.9"/><circle cx="1200.7" cy="845.8" r="7.9"/><circle cx="1190.4" cy="853.1" r="7.9"/><circle cx="1189.7" cy="865.6" r="7.9"/><circle cx="1216.9" cy="806.4" r="7.9"/><circle cx="1240.3" cy="799.5" r="7.9"/><circle cx="1236.7" cy="809.1" r="7.9"/><circle cx="1220.5" cy="834" r="7.9"/><circle cx="1231.5" cy="834" r="7.9"/><circle cx="1221.3" cy="824.5" r="7.9"/><circle cx="1258" cy="825.2" r="7.9"/><circle cx="1262.4" cy="840.7" r="7.9"/><circle cx="1265.3" cy="841.4" r="7.9"/><circle cx="1249.2" cy="851.7" r="7.9"/><circle cx="1304.9" cy="792.9" r="7.9"/><circle cx="1323.3" cy="803.2" r="7.9"/><circle cx="1314.5" cy="814.2" r="7.9"/><circle cx="1328.4" cy="820.8" r="7.9"/><circle cx="1299.8" cy="848.7" r="7.9"/><circle cx="1317.4" cy="858.3" r="7.9"/><circle cx="1314.5" cy="862.7" r="7.9"/><circle cx="1172.4" cy="890.3" r="7.9"/><circle cx="1197.8" cy="923.3" r="7.9"/><circle cx="1162.2" cy="944.9" r="7.9"/><circle cx="1147.9" cy="885.4" r="7.9"/><circle cx="1144.9" cy="903" r="7.9"/><circle cx="1147.9" cy="912.6" r="7.9"/><circle cx="1139" cy="892.8" r="7.9"/><circle cx="1126.6" cy="918.5" r="7.9"/><circle cx="1131" cy="914.8" r="7.9"/><circle cx="1105.3" cy="934.6" r="7.9"/><circle cx="1097.9" cy="929.5" r="7.9"/><circle cx="1104.5" cy="708.9" r="7.9"/><circle cx="1141.5" cy="730.2" r="7.9"/><circle cx="1089.5" cy="755" r="7.9"/><circle cx="1121.1" cy="765.1" r="7.9"/><circle cx="1100.1" cy="780.8" r="7.9"/><circle cx="1196" cy="775" r="7.9"/><circle cx="1235.6" cy="745.3" r="7.9"/><circle cx="1272.6" cy="717" r="7.9"/><circle cx="1270.4" cy="722.9" r="7.9"/><circle cx="1288.1" cy="739" r="7.9"/><circle cx="1273.4" cy="748.5" r="7.9"/><circle cx="1287.3" cy="752.2" r="7.9"/><circle cx="1291" cy="755.9" r="7.9"/><circle cx="1303.5" cy="753.7" r="7.9"/><circle cx="1267.5" cy="769.1" r="7.9"/><circle cx="1263.8" cy="777.2" r="7.9"/><circle cx="1263.8" cy="791.9" r="7.9"/><circle cx="1316.7" cy="717" r="7.9"/><circle cx="1327.7" cy="710.4" r="7.9"/><circle cx="1329.9" cy="714" r="7.9"/><circle cx="1321.8" cy="730.2" r="7.9"/><circle cx="1326.2" cy="728" r="7.9"/><circle cx="1329.9" cy="741.9" r="7.9"/><circle cx="1328.4" cy="757.4" r="7.9"/><circle cx="1310.8" cy="779.4" r="7.9"/><circle cx="1296.1" cy="778.6" r="7.9"/><circle cx="1318.2" cy="764" r="7.9"/><circle cx="1069.6" cy="729.8" r="7.9"/><circle cx="871" cy="1055" r="7.9"/><circle cx="873" cy="1068" r="7.9"/><circle cx="872" cy="1074" r="7.9"/><circle cx="878" cy="1083" r="7.9"/><circle cx="1300" cy="768" r="7.9"/><circle cx="1306" cy="762" r="7.9"/><circle cx="1311" cy="757" r="7.9"/><circle cx="1315" cy="770" r="7.9"/><circle cx="1308" cy="772" r="7.9"/><circle cx="1322" cy="752" r="7.9"/></g>
<path d="M871.4 1050.2L890.5 1038L909.5 1025.7L928.6 1013.5L947.7 1001.2L966.8 988.9L985.8 976.5L1004.9 964.1L1024 951.6L1043 939.1L1062.1 926.4L1081.2 913.6L1100.2 900.8L1119.3 887.7L1138.4 874.6L1157.5 861.4L1176.5 848.1L1195.6 834.7L1214.7 821.2L1233.7 807.8L1252.8 794.2L1271.9 780.6L1291 767.1L1310 753.4L1329.1 739.8L1329.1 761.8L1310 774.1L1291 786.4L1271.9 798.7L1252.8 811L1233.7 823.4L1214.7 835.8L1195.6 848.3L1176.5 860.8L1157.5 873.4L1138.4 886.1L1119.3 898.9L1100.2 911.8L1081.2 924.8L1062.1 937.9L1043 951.2L1024 964.5L1004.9 977.9L985.8 991.4L966.8 1005L947.7 1018.6L928.6 1032.2L909.5 1045.8L890.5 1059.5L871.4 1073.2z" fill="#999" fill-opacity="0.4"/>
<path d="M871.4 1061.7L1329.1 750.8" stroke="#3366f8" stroke-width="8.3" fill="none"/>
<path d="M861.4 1106.9L1346.9 688.6" stroke="#c9141c" stroke-width="4.2" stroke-dasharray="4 13.71" fill="none"/>
<path d="M847.3 682.3V1118.6H1354.6" fill="none" stroke="#000" stroke-width="4.5" stroke-linecap="butt" stroke-linejoin="miter"/>
<path d="M870.1 1120.8v11.4M984.8 1120.8v11.4M1099.6 1120.8v11.4M1214.8 1120.8v11.4M1329.7 1120.8v11.4M845 703.5h-11.8M845 802.5h-11.8M845 901.5h-11.8M845 1000.5h-11.8M845 1099.5h-11.8" stroke="#000" stroke-width="4.1" fill="none"/>
<text x="870.1" y="1166.8" text-anchor="middle" font-size="28.8">−1.0</text>
<text x="984.8" y="1166.8" text-anchor="middle" font-size="28.8">−0.5</text>
<text x="1099.6" y="1166.8" text-anchor="middle" font-size="28.8">0.0</text>
<text x="1214.8" y="1166.8" text-anchor="middle" font-size="28.8">0.5</text>
<text x="1329.7" y="1166.8" text-anchor="middle" font-size="28.8">1.0</text>
<text x="819.4" y="713.5" text-anchor="end" font-size="28.8">1.0</text>
<text x="819.4" y="812.5" text-anchor="end" font-size="28.8">0.5</text>
<text x="819.4" y="911.5" text-anchor="end" font-size="28.8">0.0</text>
<text x="819.4" y="1010.5" text-anchor="end" font-size="28.8">−0.5</text>
<text x="819.4" y="1109.5" text-anchor="end" font-size="28.8">−1.0</text>
<text x="1100" y="1217.9" text-anchor="middle" font-size="29.05">Generating relative start times</text>
<text x="738.2" y="899.8" text-anchor="middle" font-size="29.05" transform="rotate(-90 738.2 899.8)">Recovered relative start times</text>
<text x="894.6" y="717.7" text-anchor="start" font-size="28.8">r = 0.82</text>
<g fill="none" stroke="#000" stroke-width="3"><circle cx="1822.3" cy="245.3" r="7.9"/><circle cx="1798.8" cy="248.1" r="7.9"/><circle cx="1797.7" cy="233.3" r="7.9"/><circle cx="1800.5" cy="226.7" r="7.9"/><circle cx="1798.6" cy="259.9" r="7.9"/><circle cx="1808.9" cy="249.6" r="7.9"/><circle cx="1782.8" cy="257" r="7.9"/><circle cx="1790.8" cy="283.8" r="7.9"/><circle cx="1814.6" cy="251.8" r="7.9"/><circle cx="1791" cy="240.6" r="7.9"/><circle cx="1782.2" cy="247.3" r="7.9"/><circle cx="1805.6" cy="263.8" r="7.9"/><circle cx="1810.8" cy="293.9" r="7.9"/><circle cx="1786.6" cy="254.2" r="7.9"/><circle cx="1790.1" cy="257.2" r="7.9"/><circle cx="1802.9" cy="261.7" r="7.9"/><circle cx="1795.5" cy="261" r="7.9"/><circle cx="1801" cy="268.7" r="7.9"/><circle cx="1764" cy="237.2" r="7.9"/><circle cx="1800" cy="234.4" r="7.9"/><circle cx="1780.2" cy="265.9" r="7.9"/><circle cx="1787.7" cy="266.1" r="7.9"/><circle cx="1814.2" cy="259.8" r="7.9"/><circle cx="1809.7" cy="252" r="7.9"/><circle cx="1773.2" cy="253.4" r="7.9"/><circle cx="1808.6" cy="243.9" r="7.9"/><circle cx="1798.1" cy="268.2" r="7.9"/><circle cx="1783.3" cy="266.2" r="7.9"/><circle cx="1835.4" cy="243.5" r="7.9"/><circle cx="1802.8" cy="251.1" r="7.9"/><circle cx="1829.3" cy="260" r="7.9"/><circle cx="1817.1" cy="240.9" r="7.9"/><circle cx="1799.7" cy="253.8" r="7.9"/><circle cx="1766.3" cy="281.4" r="7.9"/><circle cx="1817.1" cy="220.8" r="7.9"/><circle cx="1814.1" cy="251.5" r="7.9"/><circle cx="1808.5" cy="261" r="7.9"/><circle cx="1771.5" cy="250" r="7.9"/><circle cx="1828.4" cy="243.1" r="7.9"/><circle cx="1780.6" cy="228.2" r="7.9"/><circle cx="1776.8" cy="260.4" r="7.9"/><circle cx="1832.2" cy="262.2" r="7.9"/><circle cx="1804.7" cy="296.4" r="7.9"/><circle cx="1790.1" cy="241.2" r="7.9"/><circle cx="1810" cy="264.4" r="7.9"/><circle cx="1780.7" cy="231.8" r="7.9"/><circle cx="1805.5" cy="258.7" r="7.9"/><circle cx="1775.2" cy="250.2" r="7.9"/><circle cx="1789.7" cy="262.7" r="7.9"/><circle cx="1797.8" cy="252.4" r="7.9"/><circle cx="1793.3" cy="274" r="7.9"/><circle cx="1826.4" cy="247" r="7.9"/><circle cx="1816.1" cy="239.6" r="7.9"/><circle cx="1801.4" cy="268.2" r="7.9"/><circle cx="1828.8" cy="246.7" r="7.9"/><circle cx="1798.6" cy="257.7" r="7.9"/><circle cx="1771.5" cy="254.3" r="7.9"/><circle cx="1787.2" cy="261.1" r="7.9"/><circle cx="1800.7" cy="259" r="7.9"/><circle cx="1789.6" cy="270.9" r="7.9"/><circle cx="1794.8" cy="242.5" r="7.9"/><circle cx="1809.1" cy="224.2" r="7.9"/><circle cx="1787.1" cy="253.6" r="7.9"/><circle cx="1816.1" cy="250.9" r="7.9"/><circle cx="1805.9" cy="241.5" r="7.9"/><circle cx="1805.7" cy="285.6" r="7.9"/><circle cx="1787" cy="299" r="7.9"/><circle cx="1787.8" cy="254.3" r="7.9"/><circle cx="1803.3" cy="273.5" r="7.9"/><circle cx="1811.5" cy="269.1" r="7.9"/><circle cx="1811.8" cy="304" r="7.9"/><circle cx="1803.9" cy="258.8" r="7.9"/><circle cx="1817.7" cy="261" r="7.9"/><circle cx="1831.6" cy="230.5" r="7.9"/><circle cx="1815.4" cy="246.9" r="7.9"/><circle cx="1817.6" cy="294.9" r="7.9"/><circle cx="1799.9" cy="249.2" r="7.9"/><circle cx="1790.5" cy="238.1" r="7.9"/><circle cx="1788" cy="266.1" r="7.9"/><circle cx="1800.7" cy="255.3" r="7.9"/><circle cx="1796.7" cy="271.4" r="7.9"/><circle cx="1809.4" cy="251.3" r="7.9"/><circle cx="1812.6" cy="251.1" r="7.9"/><circle cx="1778.1" cy="281.7" r="7.9"/><circle cx="1808.8" cy="235.8" r="7.9"/><circle cx="1820.5" cy="260.6" r="7.9"/><circle cx="1770.3" cy="284.6" r="7.9"/><circle cx="1806.3" cy="270.9" r="7.9"/><circle cx="1803.8" cy="251.2" r="7.9"/><circle cx="1770.6" cy="272.5" r="7.9"/><circle cx="1800.6" cy="248.6" r="7.9"/><circle cx="1806.7" cy="255.5" r="7.9"/><circle cx="1812.8" cy="247" r="7.9"/><circle cx="1792" cy="266.8" r="7.9"/><circle cx="1825.4" cy="247.1" r="7.9"/><circle cx="1797.7" cy="284.1" r="7.9"/><circle cx="1793.8" cy="267.9" r="7.9"/><circle cx="1831.9" cy="254.8" r="7.9"/><circle cx="1823.3" cy="240.5" r="7.9"/><circle cx="1803.9" cy="252.5" r="7.9"/><circle cx="1802.2" cy="275.5" r="7.9"/><circle cx="1845.4" cy="241.4" r="7.9"/><circle cx="1789.1" cy="263.5" r="7.9"/><circle cx="1800.6" cy="278.4" r="7.9"/><circle cx="1842.9" cy="262.2" r="7.9"/><circle cx="1841.8" cy="235.5" r="7.9"/><circle cx="1847.8" cy="235.6" r="7.9"/><circle cx="1809.9" cy="256.3" r="7.9"/><circle cx="1817.6" cy="286" r="7.9"/><circle cx="1830.1" cy="259.7" r="7.9"/><circle cx="1842.1" cy="301.2" r="7.9"/><circle cx="1828.2" cy="275.7" r="7.9"/><circle cx="1860.2" cy="273.6" r="7.9"/><circle cx="1827" cy="276.8" r="7.9"/><circle cx="1853.1" cy="282" r="7.9"/><circle cx="1820.9" cy="245.9" r="7.9"/><circle cx="1830.7" cy="289.7" r="7.9"/><circle cx="1799.7" cy="246.4" r="7.9"/><circle cx="1827.4" cy="227.3" r="7.9"/><circle cx="1821.2" cy="258.8" r="7.9"/><circle cx="1839.7" cy="253.3" r="7.9"/><circle cx="1805.1" cy="259.7" r="7.9"/><circle cx="1826.7" cy="254" r="7.9"/><circle cx="1828.3" cy="283.8" r="7.9"/><circle cx="1807.6" cy="259.2" r="7.9"/><circle cx="1809.2" cy="267.3" r="7.9"/><circle cx="1841.6" cy="239.5" r="7.9"/><circle cx="1840.1" cy="267.4" r="7.9"/><circle cx="1780.5" cy="274.1" r="7.9"/><circle cx="1859.1" cy="228.8" r="7.9"/><circle cx="1849" cy="272.4" r="7.9"/><circle cx="1840.3" cy="277.3" r="7.9"/><circle cx="1861.9" cy="263.3" r="7.9"/><circle cx="1850.7" cy="259.4" r="7.9"/><circle cx="1846.9" cy="250.9" r="7.9"/><circle cx="1825.2" cy="304.4" r="7.9"/><circle cx="1839.6" cy="264.7" r="7.9"/><circle cx="1798.2" cy="251.4" r="7.9"/><circle cx="1833" cy="287.7" r="7.9"/><circle cx="1839.1" cy="279" r="7.9"/><circle cx="1826.9" cy="296.4" r="7.9"/><circle cx="1817.8" cy="256.5" r="7.9"/><circle cx="1851.1" cy="269.3" r="7.9"/><circle cx="1820.8" cy="255.9" r="7.9"/><circle cx="1821.3" cy="281.1" r="7.9"/><circle cx="1837.2" cy="242.6" r="7.9"/><circle cx="1839.1" cy="271.8" r="7.9"/><circle cx="1802" cy="284.2" r="7.9"/><circle cx="1820.7" cy="261" r="7.9"/><circle cx="1848.7" cy="295.7" r="7.9"/><circle cx="1810.1" cy="277.2" r="7.9"/><circle cx="1815.2" cy="293.1" r="7.9"/><circle cx="1811.2" cy="285" r="7.9"/><circle cx="1816.7" cy="278.5" r="7.9"/><circle cx="1825.6" cy="254" r="7.9"/><circle cx="1785.2" cy="285.9" r="7.9"/><circle cx="1783.2" cy="292.2" r="7.9"/><circle cx="1813" cy="271" r="7.9"/><circle cx="1860.8" cy="270.5" r="7.9"/><circle cx="1791.8" cy="232.4" r="7.9"/><circle cx="1858.7" cy="283.5" r="7.9"/><circle cx="1806.8" cy="286" r="7.9"/><circle cx="1840.9" cy="281.6" r="7.9"/><circle cx="1769.3" cy="261.7" r="7.9"/><circle cx="1851.4" cy="283.4" r="7.9"/><circle cx="1832.4" cy="278.3" r="7.9"/><circle cx="1819.4" cy="268.8" r="7.9"/><circle cx="1851" cy="258.7" r="7.9"/><circle cx="1857.8" cy="251.5" r="7.9"/><circle cx="1834.9" cy="256.9" r="7.9"/><circle cx="1832.1" cy="253.5" r="7.9"/><circle cx="1786.5" cy="291" r="7.9"/><circle cx="1792.3" cy="67.4" r="7.9"/><circle cx="1860.9" cy="65.2" r="7.9"/><circle cx="1878.2" cy="55.4" r="7.9"/><circle cx="1701.3" cy="98.3" r="7.9"/><circle cx="1833" cy="118.8" r="7.9"/><circle cx="1760" cy="129.8" r="7.9"/><circle cx="1794.1" cy="132.5" r="7.9"/><circle cx="1714.5" cy="135.7" r="7.9"/><circle cx="1739.9" cy="161.1" r="7.9"/><circle cx="1760" cy="168" r="7.9"/><circle cx="1785.7" cy="167" r="7.9"/><circle cx="1846.6" cy="172.8" r="7.9"/><circle cx="1873.3" cy="165.4" r="7.9"/><circle cx="1866.4" cy="186.6" r="7.9"/><circle cx="1804.3" cy="194.7" r="7.9"/><circle cx="1817.3" cy="206.2" r="7.9"/><circle cx="1716.7" cy="206.9" r="7.9"/><circle cx="1749" cy="205.4" r="7.9"/><circle cx="1876" cy="209.1" r="7.9"/><circle cx="1725.5" cy="221.8" r="7.9"/><circle cx="1738.7" cy="231.4" r="7.9"/><circle cx="1740.2" cy="213" r="7.9"/><circle cx="1745.3" cy="214.5" r="7.9"/><circle cx="1749" cy="216" r="7.9"/><circle cx="1757.8" cy="220.4" r="7.9"/><circle cx="1768.1" cy="217.4" r="7.9"/><circle cx="1769.5" cy="216.7" r="7.9"/><circle cx="1788.6" cy="216.7" r="7.9"/><circle cx="1804.8" cy="218.2" r="7.9"/><circle cx="1818.7" cy="214.5" r="7.9"/><circle cx="1831.2" cy="222.6" r="7.9"/><circle cx="1825.3" cy="224" r="7.9"/><circle cx="1865" cy="230.6" r="7.9"/><circle cx="1867.9" cy="232.1" r="7.9"/><circle cx="1880.4" cy="229.2" r="7.9"/><circle cx="1895.1" cy="243.9" r="7.9"/><circle cx="1908.3" cy="249" r="7.9"/><circle cx="1906.8" cy="255.6" r="7.9"/><circle cx="1891.4" cy="251.9" r="7.9"/><circle cx="1876.7" cy="250.5" r="7.9"/><circle cx="1870.9" cy="253.4" r="7.9"/><circle cx="1848.8" cy="243.9" r="7.9"/><circle cx="1839.3" cy="240.2" r="7.9"/><circle cx="1916.4" cy="272.5" r="7.9"/><circle cx="1895.1" cy="282.8" r="7.9"/><circle cx="1900.2" cy="274" r="7.9"/><circle cx="1870.1" cy="281.3" r="7.9"/><circle cx="1866.4" cy="297.4" r="7.9"/><circle cx="1859.8" cy="285.7" r="7.9"/><circle cx="1889.9" cy="304.8" r="7.9"/><circle cx="1885.5" cy="311.4" r="7.9"/><circle cx="1849.6" cy="321.7" r="7.9"/><circle cx="1850.3" cy="331.9" r="7.9"/><circle cx="1800.4" cy="334.9" r="7.9"/><circle cx="1811.4" cy="351" r="7.9"/><circle cx="1776.2" cy="329" r="7.9"/><circle cx="1764.4" cy="332.7" r="7.9"/><circle cx="1766.6" cy="354.7" r="7.9"/><circle cx="1781.3" cy="355.4" r="7.9"/><circle cx="1885.5" cy="351" r="7.9"/><circle cx="1887" cy="359.5" r="7.9"/><circle cx="1685.1" cy="232.1" r="7.9"/><circle cx="1684.4" cy="243.1" r="7.9"/><circle cx="1686.6" cy="254.1" r="7.9"/><circle cx="1687.5" cy="255" r="7.9"/><circle cx="1724" cy="264.4" r="7.9"/><circle cx="1741.7" cy="265.9" r="7.9"/><circle cx="1717.4" cy="290.1" r="7.9"/><circle cx="1723.3" cy="285.7" r="7.9"/><circle cx="1755.6" cy="301.9" r="7.9"/><circle cx="1764.4" cy="298.2" r="7.9"/><circle cx="1754.9" cy="306.3" r="7.9"/><circle cx="1763.7" cy="316.5" r="7.9"/><circle cx="1768.8" cy="315.1" r="7.9"/><circle cx="1780.6" cy="293.8" r="7.9"/><circle cx="1793.8" cy="311.4" r="7.9"/><circle cx="1803.3" cy="313.6" r="7.9"/><circle cx="1796" cy="310.7" r="7.9"/><circle cx="1822.4" cy="304.8" r="7.9"/><circle cx="1826.8" cy="301.9" r="7.9"/><circle cx="1753.4" cy="274" r="7.9"/><circle cx="1756.3" cy="241.7" r="7.9"/><circle cx="1864.5" cy="369.4" r="7.9"/><circle cx="1912" cy="366.8" r="7.9"/><circle cx="1821.7" cy="373.8" r="7.9"/><circle cx="1821.4" cy="382.9" r="7.9"/><circle cx="1928.8" cy="397.6" r="7.9"/><circle cx="1787.5" cy="409.4" r="7.9"/><circle cx="1763.2" cy="419.7" r="7.9"/><circle cx="1871.6" cy="423.3" r="7.9"/><circle cx="1790.1" cy="447.8" r="7.9"/><circle cx="1834.2" cy="443.1" r="7.9"/><circle cx="1860.9" cy="441.7" r="7.9"/><circle cx="1645.4" cy="243.7" r="7.9"/><circle cx="1651.3" cy="236.3" r="7.9"/><circle cx="1669.7" cy="237.1" r="7.9"/><circle cx="1979.7" cy="254.8" r="7.9"/><circle cx="2043.3" cy="303.8" r="7.9"/><circle cx="1959.8" cy="335.2" r="7.9"/><circle cx="1959.5" cy="348.5" r="7.9"/></g>
<path d="M1555.9 204.9L1576.2 209.3L1596.5 213.7L1616.8 218.1L1637.1 222.5L1657.4 226.9L1677.8 231.2L1698.1 235.5L1718.4 239.7L1738.7 243.8L1759 247.7L1779.3 251.2L1799.6 253.8L1819.9 255.4L1840.2 256.3L1860.5 256.8L1880.8 256.9L1901.1 257L1921.5 256.9L1941.8 256.8L1962.1 256.7L1982.4 256.5L2002.7 256.3L2023 256.1L2043.3 255.9L2043.3 310.5L2023 306.3L2002.7 302.1L1982.4 298L1962.1 293.8L1941.8 289.7L1921.5 285.6L1901.1 281.5L1880.8 277.6L1860.5 273.8L1840.2 270.2L1819.9 267.1L1799.6 264.8L1779.3 263.5L1759 262.9L1738.7 262.8L1718.4 262.9L1698.1 263.2L1677.8 263.5L1657.4 263.8L1637.1 264.2L1616.8 264.6L1596.5 265L1576.2 265.5L1555.9 265.9z" fill="#999" fill-opacity="0.4"/>
<path d="M1555.9 235.4L2043.3 283.2" stroke="#3366f8" stroke-width="8.3" fill="none"/>
<rect x="1930" y="36" width="6" height="1.6" fill="#888"/>
<path d="M1553.7 34.6V471.5H2060.8" fill="none" stroke="#000" stroke-width="4.5" stroke-linecap="butt" stroke-linejoin="miter"/>
<path d="M1576.2 473.8v11.4M1691 473.8v11.4M1805.8 473.8v11.4M1920.6 473.8v11.4M2035.4 473.8v11.4M1551.5 56.8h-11.8M1551.5 155.4h-11.8M1551.5 254h-11.8M1551.5 352.6h-11.8M1551.5 451.2h-11.8" stroke="#000" stroke-width="4.1" fill="none"/>
<text x="1576.2" y="519.2" text-anchor="middle" font-size="28.8">−2</text>
<text x="1691" y="519.2" text-anchor="middle" font-size="28.8">−1</text>
<text x="1805.8" y="519.2" text-anchor="middle" font-size="28.8">0</text>
<text x="1920.6" y="519.2" text-anchor="middle" font-size="28.8">1</text>
<text x="2035.4" y="519.2" text-anchor="middle" font-size="28.8">2</text>
<text x="1526.7" y="67" text-anchor="end" font-size="28.8">1.0</text>
<text x="1526.7" y="165.6" text-anchor="end" font-size="28.8">0.5</text>
<text x="1526.7" y="264.2" text-anchor="end" font-size="28.8">0.0</text>
<text x="1526.7" y="362.8" text-anchor="end" font-size="28.8">−0.5</text>
<text x="1526.7" y="461.4" text-anchor="end" font-size="28.8">−1.0</text>
<text x="1806" y="570.3" text-anchor="middle" font-size="29.05">Relative weight error</text>
<text x="1444" y="251.6" text-anchor="middle" font-size="29.05" transform="rotate(-90 1444 251.6)">Relative start time error</text>
<text x="1589.6" y="64.7" text-anchor="start" font-size="28.8">r = -0.1</text>
</svg>
</body>
</html>
